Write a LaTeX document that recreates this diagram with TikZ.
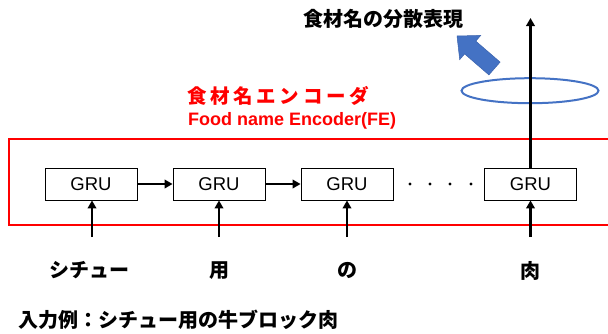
\documentclass[tikz,border=0pt]{standalone}
\usepackage{fontspec}
\setmainfont{Liberation Sans}
\newfontfamily\jp{Noto Sans CJK JP}
\usetikzlibrary{arrows.meta}
\definecolor{pptblue}{HTML}{4472C4}
\definecolor{pptblueedge}{HTML}{3A62AC}
\definecolor{fered}{HTML}{FF0000}
\newcommand\jch[1]{\makebox[23.2pt][l]{#1}}
\begin{document}
\begin{tikzpicture}[x=1pt,y=-1pt,
  grubox/.style={draw=black,line width=0.8pt,minimum width=92pt,minimum height=32pt,inner sep=0pt,font=\fontsize{18.5}{20}\selectfont},
  flow/.style={line width=2.8pt,-{Triangle[length=8pt,width=8.5pt]}},
  jlabel/.style={inner sep=0pt,font=\jp\bfseries\fontsize{20}{22}\selectfont}]
\useasboundingbox (0,0) rectangle (608,333);
% encoder frame (open to the right)
\draw[fered,line width=2.5pt] (609,139) -- (9,139) -- (9,225) -- (609,225);
% GRU cells
\node[grubox] (g1) at (91,184) {GRU};
\node[grubox] (g2) at (219,184) {GRU};
\node[grubox] (g3) at (347,184) {GRU};
\node[grubox] (g4) at (530.5,184) {GRU};
\draw[flow] (g1) -- (g2);
\draw[flow] (g2) -- (g3);
% dots
\foreach \x in {410,430,450,471} \fill (\x,184) circle (1.7pt);
% inputs
\coordinate (i1) at (92,237);
\coordinate (i2) at (219,237);
\coordinate (i3) at (347,237);
\coordinate (i4) at (530.5,237);
\foreach \k in {1,2,3,4} \draw[flow] (i\k) -- (i\k |- g\k.south);
% labels
\node[jlabel] (l1) at (89,270.5) {シチュー};
\node[jlabel] (l2) at (219,270.5) {用};
\node[jlabel] (l3) at (347,270.5) {の};
\node[jlabel] (l4) at (530,270.5) {肉};
\node[jlabel,anchor=west] (ex) at (18,319.5) {入力例：シチュー用の牛ブロック肉};
% encoder title
\node[inner sep=0pt,anchor=west,text=fered,font=\jp\bfseries\fontsize{19.5}{21}\selectfont] (fe1) at (187,95.5)
  {\jch{食}\jch{材}\jch{名}\jch{エ}\jch{ン}\jch{コ}\jch{ー}ダ};
\node[inner sep=0pt,anchor=base west,text=fered,font=\bfseries\fontsize{18}{20}\selectfont] (fe2) at (188,125) {Food name Encoder(FE)};
% ellipse and output
\draw[pptblue,line width=2pt] (530,90.7) ellipse [x radius=68.5, y radius=12.5];
\coordinate (o) at (530.5,18);
\draw[flow] (g4.north) -- (o);
% block arrow
\fill[pptblue,draw=pptblueedge,line width=0.5pt] (457,36) -- (480.7,35.4) -- (475.8,41.1) -- (500.1,62.1) -- (488.9,74.9) -- (464.6,53.9) -- (459.7,59.6) -- cycle;
% result title
\node[jlabel] (res) at (383,18.5) {食材名の分散表現};
\end{tikzpicture}
\end{document}
